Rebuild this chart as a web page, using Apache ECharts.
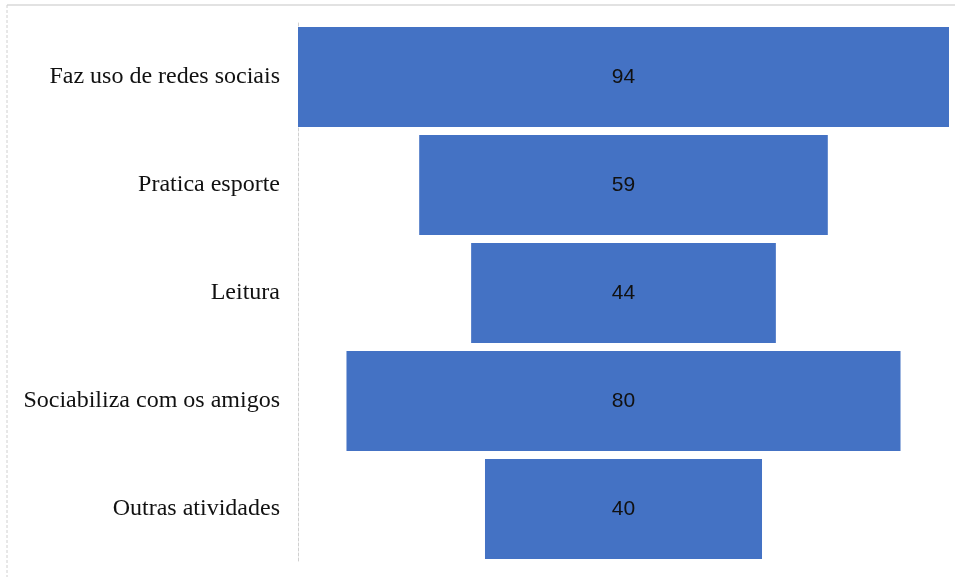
<!DOCTYPE html>
<html>
<head>
<meta charset="utf-8">
<script src="https://cdn.jsdelivr.net/npm/echarts@6/dist/echarts.min.js"></script>
<style>
  html, body { margin: 0; padding: 0; background: #fff; }
  #chart { width: 955px; height: 577px; }
</style>
</head>
<body>
<div id="chart"></div>
<script>
const categories = ['Faz uso de redes sociais', 'Pratica esporte', 'Leitura', 'Sociabiliza com os amigos', 'Outras atividades'];
const values = [94, 59, 44, 80, 40];

// funil: barra invisível à esquerda para centralizar cada barra
const maxVal = Math.max(...values);
const padding = values.map(v => (maxVal - v) / 2);

const chart = echarts.init(document.getElementById('chart'));

chart.setOption({
  backgroundColor: '#fff',
  animation: false,
  grid: { left: 298, right: 6, top: 23, bottom: 14 },
  xAxis: {
    type: 'value', min: 0, max: maxVal,
    show: false
  },
  yAxis: {
    type: 'category', data: categories, inverse: true,
    axisLine: { show: true, lineStyle: { color: '#d0d0d0', type: [3, 2], width: 1 } },
    axisTick: { show: false },
    axisLabel: {
      color: '#111', fontFamily: 'Liberation Serif', fontSize: 24, margin: 18
    },
    splitLine: { show: false }
  },
  series: [
    {
      type: 'bar', stack: 'funil', data: padding,
      itemStyle: { color: 'transparent' },
      barCategoryGap: '7.5%', silent: true
    },
    {
      type: 'bar', stack: 'funil', data: values,
      itemStyle: { color: '#4472C4' },
      barCategoryGap: '7.5%',
      label: {
        show: true, position: 'inside', color: '#111',
        fontFamily: 'Liberation Sans', fontSize: 21
      }
    }
  ],
  graphic: [
    {
      type: 'line', shape: { x1: 7, y1: 5, x2: 955, y2: 5 },
      style: { stroke: '#d9d9d9', lineWidth: 1.5 }
    },
    {
      type: 'line', shape: { x1: 7, y1: 5, x2: 7, y2: 577 },
      style: { stroke: '#d0d0d0', lineWidth: 1, lineDash: [3, 2] }
    }
  ]
});
</script>
</body>
</html>
